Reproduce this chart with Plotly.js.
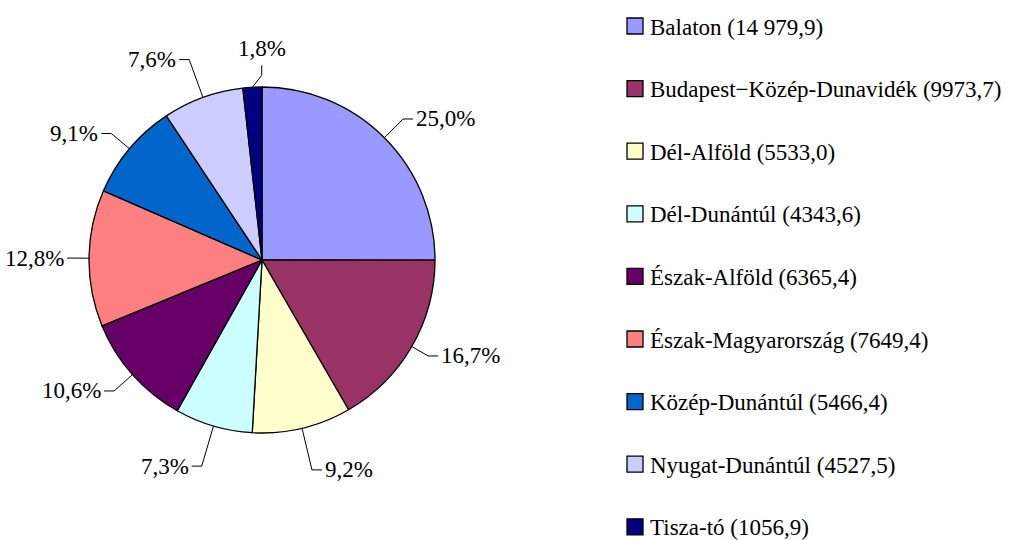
<!DOCTYPE html>
<html>
<head>
<meta charset="utf-8">
<script src="https://cdn.plot.ly/plotly-3.0.1.min.js"></script>
<style>html,body{margin:0;padding:0;background:#fff;}#chart{width:1021px;height:540px;}</style>
</head>
<body>
<div id="chart"></div>
<script>
// ---- data ----
var regions = ["Balaton", "Budapest\u2212Közép-Dunavidék", "Dél-Alföld", "Dél-Dunántúl", "Észak-Alföld",
               "Észak-Magyarország", "Közép-Dunántúl", "Nyugat-Dunántúl", "Tisza-tó"];
var values = [14979.9, 9973.7, 5533.0, 4343.6, 6365.4, 7649.4, 5466.4, 4527.5, 1056.9];
var colors = ["#9999FF", "#993366", "#FFFFCC", "#CCFFFF", "#660066", "#FF8080", "#0066CC", "#CCCCFF", "#000080"];

// ---- layout constants ----
var W = 1021, H = 540;
var CX = 262, CY = 260, R = 173;
var LA = R + 12, LB = R + 45;   // label ellipse semi-axes
var FONT = "Liberation Serif";
var FS = 23;

function px(x) { return x / W; }
function py(y) { return 1 - y / H; }

function fmtNum(v) {
  var s = v.toFixed(1).split('.');
  var ip = s[0];
  if (ip.length > 4) ip = ip.slice(0, ip.length - 3) + ' ' + ip.slice(ip.length - 3);
  return ip + ',' + s[1];
}

var total = values.reduce(function (a, b) { return a + b; }, 0);

var trace = {
  type: 'pie',
  labels: regions,
  values: values,
  sort: false,
  direction: 'clockwise',
  rotation: 0,
  textinfo: 'none',
  hoverinfo: 'label+percent',
  marker: { colors: colors, line: { color: '#000000', width: 1.3 } },
  domain: { x: [px(CX - R), px(CX + R)], y: [py(CY + R), py(CY - R)] },
  showlegend: false
};

var shapes = [];
var annotations = [];

// leader lines + percentage labels, computed from the values
var cum = 0;
for (var i = 0; i < values.length; i++) {
  var frac = values[i] / total;
  var th = 2 * Math.PI * (cum + frac / 2);
  cum += frac;
  var s = Math.sin(th), c = Math.cos(th);
  var x0 = CX + R * s, y0 = CY - R * c;
  var txt = (frac * 100).toFixed(1).replace('.', ',') + '%';
  var path, ann, t, x1, y1;
  if (Math.abs(s) < 0.1) {
    t = R + 12;
    x1 = CX + t * s + (s < 0 ? 10 : -10); y1 = CY - t * c;
    var x2 = x1, y2 = y1 - 10;
    path = 'M' + px(x0) + ',' + py(y0) + ' L' + px(x1) + ',' + py(y1) + ' L' + px(x2) + ',' + py(y2);
    ann = { x: px(x2), y: py(y2 - 2), xanchor: 'center', yanchor: 'bottom' };
  } else {
    t = 1 / Math.sqrt((s / LA) * (s / LA) + (c / LB) * (c / LB));
    x1 = CX + t * s; y1 = CY - t * c;
    var dir = s > 0 ? 1 : -1;
    var x2b = x1 + dir * 10, y2b = y1;
    path = 'M' + px(x0) + ',' + py(y0) + ' L' + px(x1) + ',' + py(y1) + ' L' + px(x2b) + ',' + py(y2b);
    ann = { x: px(x2b + dir * 1), y: py(y2b), xanchor: dir > 0 ? 'left' : 'right', yanchor: 'middle' };
  }
  shapes.push({ type: 'path', xref: 'paper', yref: 'paper', path: path, line: { color: '#000000', width: 1 } });
  ann.xref = 'paper'; ann.yref = 'paper'; ann.text = txt; ann.showarrow = false;
  ann.font = { family: FONT, size: FS, color: '#000000' };
  annotations.push(ann);
}

// legend (drawn manually to match spacing and symbol size)
var LX = 627, LY0 = 26, LSTEP = 62.6, SQ = 16;
for (var j = 0; j < regions.length; j++) {
  var yc = LY0 + j * LSTEP;
  shapes.push({ type: 'rect', xref: 'paper', yref: 'paper',
    x0: px(LX), x1: px(LX + SQ), y0: py(yc + SQ / 2), y1: py(yc - SQ / 2),
    fillcolor: colors[j], line: { color: '#000000', width: 1.3 } });
  annotations.push({ xref: 'paper', yref: 'paper', x: px(LX + SQ + 5), y: py(yc + 1),
    xanchor: 'left', yanchor: 'middle', showarrow: false,
    text: regions[j] + ' (' + fmtNum(values[j]) + ')',
    font: { family: FONT, size: FS, color: '#000000' } });
}

var layout = {
  width: W, height: H,
  margin: { l: 0, r: 0, t: 0, b: 0 },
  paper_bgcolor: '#ffffff',
  plot_bgcolor: '#ffffff',
  showlegend: false,
  shapes: shapes,
  annotations: annotations
};

Plotly.newPlot('chart', [trace], layout, { displayModeBar: false, staticPlot: true });
</script>
</body>
</html>
